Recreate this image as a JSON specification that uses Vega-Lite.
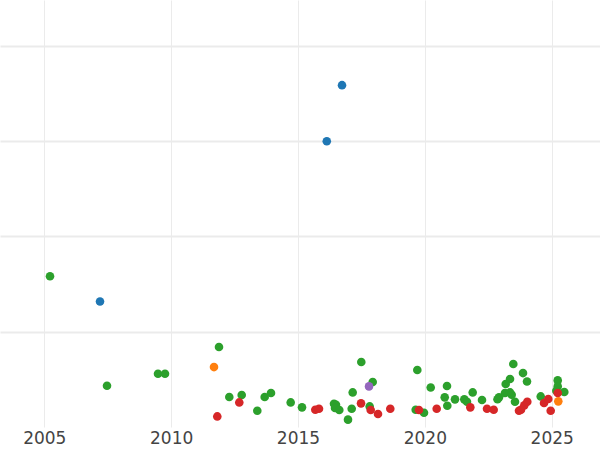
{
  "$schema": "https://vega.github.io/schema/vega-lite/v6.json",
  "width": 600,
  "height": 427,
  "autosize": {"type": "none"},
  "padding": {"left": 0, "top": 0, "right": 0, "bottom": 23},
  "background": "white",
  "config": {"view": {"stroke": null}},
  "data": {
    "values": [
      {"year": 2005.225, "value": 1.582, "group": "C"},
      {"year": 2007.472, "value": 0.433, "group": "C"},
      {"year": 2009.482, "value": 0.559, "group": "C"},
      {"year": 2009.758, "value": 0.559, "group": "C"},
      {"year": 2011.886, "value": 0.839, "group": "C"},
      {"year": 2012.292, "value": 0.315, "group": "C"},
      {"year": 2012.781, "value": 0.336, "group": "C"},
      {"year": 2013.396, "value": 0.171, "group": "C"},
      {"year": 2013.687, "value": 0.315, "group": "C"},
      {"year": 2013.936, "value": 0.357, "group": "C"},
      {"year": 2014.712, "value": 0.258, "group": "C"},
      {"year": 2015.158, "value": 0.206, "group": "C"},
      {"year": 2017.495, "value": 0.682, "group": "C"},
      {"year": 2017.945, "value": 0.472, "group": "C"},
      {"year": 2017.156, "value": 0.363, "group": "C"},
      {"year": 2016.419, "value": 0.244, "group": "C"},
      {"year": 2016.498, "value": 0.234, "group": "C"},
      {"year": 2016.459, "value": 0.199, "group": "C"},
      {"year": 2016.628, "value": 0.178, "group": "C"},
      {"year": 2017.117, "value": 0.192, "group": "C"},
      {"year": 2016.971, "value": 0.077, "group": "C"},
      {"year": 2017.826, "value": 0.216, "group": "C"},
      {"year": 2019.703, "value": 0.598, "group": "C"},
      {"year": 2019.639, "value": 0.181, "group": "C"},
      {"year": 2019.967, "value": 0.150, "group": "C"},
      {"year": 2020.231, "value": 0.415, "group": "C"},
      {"year": 2020.873, "value": 0.430, "group": "C"},
      {"year": 2020.783, "value": 0.311, "group": "C"},
      {"year": 2020.885, "value": 0.223, "group": "C"},
      {"year": 2021.189, "value": 0.290, "group": "C"},
      {"year": 2021.555, "value": 0.290, "group": "C"},
      {"year": 2021.661, "value": 0.265, "group": "C"},
      {"year": 2021.886, "value": 0.363, "group": "C"},
      {"year": 2022.253, "value": 0.283, "group": "C"},
      {"year": 2022.923, "value": 0.311, "group": "C"},
      {"year": 2022.864, "value": 0.292, "group": "C"},
      {"year": 2023.487, "value": 0.661, "group": "C"},
      {"year": 2023.357, "value": 0.504, "group": "C"},
      {"year": 2023.187, "value": 0.451, "group": "C"},
      {"year": 2023.159, "value": 0.357, "group": "C"},
      {"year": 2023.357, "value": 0.363, "group": "C"},
      {"year": 2023.423, "value": 0.339, "group": "C"},
      {"year": 2023.553, "value": 0.265, "group": "C"},
      {"year": 2023.869, "value": 0.566, "group": "C"},
      {"year": 2024.027, "value": 0.478, "group": "C"},
      {"year": 2024.567, "value": 0.321, "group": "C"},
      {"year": 2025.237, "value": 0.489, "group": "C"},
      {"year": 2025.237, "value": 0.426, "group": "C"},
      {"year": 2025.182, "value": 0.381, "group": "C"},
      {"year": 2025.497, "value": 0.367, "group": "C"},
      {"year": 2012.686, "value": 0.258, "group": "D"},
      {"year": 2011.819, "value": 0.111, "group": "D"},
      {"year": 2015.682, "value": 0.181, "group": "D"},
      {"year": 2015.828, "value": 0.192, "group": "D"},
      {"year": 2017.484, "value": 0.248, "group": "D"},
      {"year": 2017.866, "value": 0.178, "group": "D"},
      {"year": 2018.153, "value": 0.136, "group": "D"},
      {"year": 2018.638, "value": 0.192, "group": "D"},
      {"year": 2019.769, "value": 0.178, "group": "D"},
      {"year": 2020.467, "value": 0.192, "group": "D"},
      {"year": 2021.792, "value": 0.206, "group": "D"},
      {"year": 2022.450, "value": 0.192, "group": "D"},
      {"year": 2022.714, "value": 0.181, "group": "D"},
      {"year": 2023.711, "value": 0.171, "group": "D"},
      {"year": 2023.790, "value": 0.181, "group": "D"},
      {"year": 2023.920, "value": 0.227, "group": "D"},
      {"year": 2024.038, "value": 0.265, "group": "D"},
      {"year": 2024.697, "value": 0.252, "group": "D"},
      {"year": 2024.866, "value": 0.294, "group": "D"},
      {"year": 2024.961, "value": 0.171, "group": "D"},
      {"year": 2025.237, "value": 0.357, "group": "D"},
      {"year": 2011.689, "value": 0.629, "group": "B"},
      {"year": 2025.260, "value": 0.269, "group": "B"},
      {"year": 2017.799, "value": 0.426, "group": "E"},
      {"year": 2016.735, "value": 3.588, "group": "A"},
      {"year": 2016.135, "value": 3.000, "group": "A"},
      {"year": 2007.196, "value": 1.318, "group": "A"}
    ]
  },
  "mark": {"type": "circle", "size": 74, "opacity": 1},
  "encoding": {
    "x": {
      "field": "year",
      "type": "quantitative",
      "scale": {"domain": [2003.254, 2026.904], "nice": false, "zero": false},
      "axis": {
        "title": null,
        "values": [2005, 2010, 2015, 2020, 2025],
        "format": "d",
        "domain": false,
        "ticks": false,
        "labelPadding": 3,
        "labelFont": "DejaVu Sans",
        "labelFontSize": 17,
        "labelColor": "#444444",
        "gridColor": "#ebebeb",
        "gridWidth": 1
      }
    },
    "y": {
      "field": "value",
      "type": "quantitative",
      "scale": {"domain": [0, 4.482], "nice": false, "zero": false},
      "axis": {
        "title": null,
        "values": [1, 2, 3, 4],
        "labels": false,
        "domain": false,
        "ticks": false,
        "gridColor": "#ebebeb",
        "gridWidth": 2
      }
    },
    "color": {
      "field": "group",
      "type": "nominal",
      "scale": {
        "domain": ["A", "B", "C", "D", "E"],
        "range": ["#1f77b4", "#ff7f0e", "#2ca02c", "#d62728", "#9467bd"]
      },
      "legend": null
    }
  }
}
